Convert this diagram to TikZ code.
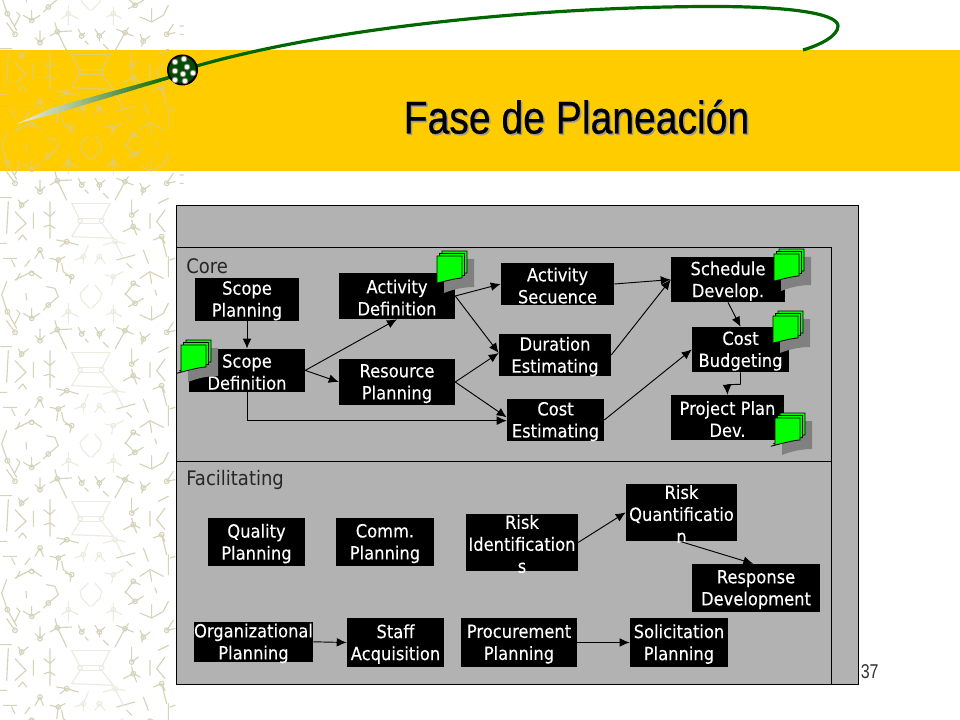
\documentclass[tikz,border=0pt]{standalone}
\usepackage{fontspec}
\setmainfont{DejaVu Sans}[FakeStretch=0.9,FakeBold=0.15]
\newfontfamily\labfont{DejaVu Sans}[FakeStretch=0.9]
\newfontfamily\titlefont{Liberation Sans}[FakeStretch=0.85,FakeBold=0.4]
\newfontfamily\numfont{Liberation Sans}[FakeStretch=0.8]
\usetikzlibrary{arrows.meta}
\definecolor{band}{HTML}{FFCC00}
\definecolor{panel}{HTML}{B2B2B2}
\definecolor{dgreen}{HTML}{006600}
\definecolor{lgreen}{HTML}{00FF00}
\definecolor{tana}{HTML}{D6D3BA}
\definecolor{tanp}{HTML}{EDEBE0}
\definecolor{tanb}{HTML}{E2CC70}
\definecolor{tailpale}{HTML}{EFEAD0}
\tikzset{
  x=0.75pt,y=-0.75pt,
  pbox/.style={fill=black,inner sep=0pt},
  ptext/.style={text=white,inner sep=0pt,align=center,font=\fontsize{13.6}{16.5}\selectfont},
  conn/.style={draw=black,line width=0.7pt,-{Latex[length=7.5pt,width=6.5pt]}},
  region/.style={draw=black,line width=0.7pt,fill=panel},
  lab/.style={font=\labfont\fontsize{15}{17}\selectfont,text=black!85,anchor=west,inner sep=0pt},
  motif/.style={line width=0.85pt,line cap=round,line join=round},
}
% tiled sketch motif, written in thirds of a pixel
\newcommand{\joints}[1]{\foreach \p/\q in {#1}{\draw (\p,\q) circle (7);}}
\newcommand{\tile}[4]{%
 \begin{scope}[shift={(#1,#2)}]
 \begin{scope}[x=0.25pt,y=-0.25pt,draw=#3,motif]
  \draw (20,35)--(45,70) (120,60)--(120,95) (105,80)--(120,95)--(135,80);
  \draw (150,75)--(172,62)--(215,60) (165,35)--(172,62)--(200,120);
  \draw (235,55)--(245,75)--(255,65) (255,90)--(265,100);
  \draw (285,55)--(298,75)--(315,60) (298,75)--(298,90) (310,100)--(325,115);
  \draw (350,55)--(375,65)--(400,75) (375,65)--(345,120) (375,65)--(385,50);
  \draw (420,70)--(430,90)--(450,75) (430,90)--(425,105);
  \draw (520,40)--(500,70)--(525,65) (540,45)--(550,45) (540,70)--(550,70);
  \draw (0,113)--(35,113) (25,125)--(20,220) (55,120)--(65,135)--(85,120) (65,135)--(60,145);
  \draw (45,155)--(78,190)--(45,220) (100,160)--(100,205);
  \draw (150,125)--(150,235) (132,155)--(150,170)--(165,155) (132,200)--(150,195)--(165,205);
  \draw (55,240)--(68,225)--(80,240) (0,250)--(20,250);
  \draw (395,120)--(395,165)--(415,150) (370,215)--(400,200)--(420,210) (395,180)--(400,200)--(410,225);
  \draw (475,130)--(505,115) (450,160)--(450,205) (495,150)--(470,185)--(495,215);
  \draw (460,240)--(485,230)--(495,250) (485,230)--(500,290);
  \draw (170,240)--(200,245)--(235,255) (180,260)--(200,245);
  \draw (105,295)--(120,270)--(130,295);
  \draw (10,295)--(50,295) (35,300)--(45,320) (90,300)--(75,320);
  \draw (150,295)--(175,300)--(195,290) (175,300)--(170,335) (185,310)--(190,335)--(210,350);
  \draw (195,345)--(215,350)--(210,370);
  \draw (45,360)--(95,335)--(125,355) (60,340)--(50,360);
  \draw (350,300)--(405,285) (430,270)--(445,310) (380,310)--(395,325);
  \draw (420,355)--(450,335)--(490,355) (450,340)--(455,370);
  \draw (505,290)--(505,350) (510,300)--(525,295);
  \draw (375,405)--(400,370)--(420,380) (385,440)--(405,430)--(430,415) (405,430)--(375,400);
  \draw (465,390)--(470,405);
  \draw (130,450)--(145,435)--(175,410)--(165,385)--(140,380);
  \draw (78,400)--(80,420) (70,460)--(95,475)--(120,460) (95,475)--(95,445);
  \draw (20,365)--(5,405)--(22,455)--(50,505) (50,450)--(60,460)--(45,490);
  \draw (420,465)--(455,480)--(490,460)--(505,430) (455,480)--(455,440);
  \joints{45/70,120/95,172/62,245/75,298/75,375/65,430/90,500/70,65/135,395/165,400/200,485/230,200/245,120/270,175/300,215/350,95/340,145/435,95/475,22/455,400/370,405/430}
  \begin{scope}[draw=#4]
   \draw (215,130)--(330,130) (240,175)--(305,175) (240,190)--(305,190);
   \draw (215,130)--(240,180) (330,130)--(305,180) (240,190)--(215,230)--(340,235)--(305,190);
   \draw (310,255)--(345,245)--(375,250) (345,245)--(370,295);
   \draw (225,300)--(250,290)--(265,255) (250,290)--(250,310) (285,310)--(298,290)--(315,310);
   \draw (315,345)--(340,350)--(370,335) (340,350)--(335,375);
   \draw (265,375)--(240,400)--(245,420)--(270,445) (285,375)--(305,400)--(300,420)--(275,445);
   \draw (340,435)--(340,490) (320,465)--(340,455)--(365,470);
   \draw (205,430)--(205,490) (185,470)--(205,455)--(235,470);
   \joints{240/182,305/182,345/245,250/290,298/290,340/350,340/455,205/455}
  \end{scope}
 \end{scope}
 \end{scope}}
\newcommand{\bx}[6]{\node[pbox,minimum width=#4*0.75pt,minimum height=#5*0.75pt,label={[ptext,yshift=-1.2pt]center:{#6}}] (#1) at (#2,#3) {};}
\newcommand{\noteicon}[2]{%
 \begin{scope}[shift={(#1,#2)}]
  \fill[black!50] (7,3) -- (37,3) -- (37,31) .. controls (27,31) and (17,33) .. (7,37) -- cycle;
  \foreach \d in {5,2.5,0}{
   \filldraw[draw=black,line width=0.6pt,fill=lgreen] (\d,-\d) -- ++(25,0) -- ++(0,22) .. controls ++(-9,0) and ++(-16,5) .. ++(-25,5) -- cycle;}
 \end{scope}}
\begin{document}
\begin{tikzpicture}
\useasboundingbox (0,0) rectangle (960,720);
\fill[white] (0,0) rectangle (960,720);
\begin{scope}
 \clip (0,0) rectangle (187,720);
 \foreach \yy in {-138,11,160,309,458,607}{\tile{0}{\yy}{tana}{tanp}}
\end{scope}
% band
\fill[band] (0,50) rectangle (960,171);
\begin{scope}
 \clip (0,50) rectangle (187,171);
 \tile{0}{11}{tanb}{tanb}
 \tile{0}{160}{tanb}{tanb}
\end{scope}
% arc
\draw[dgreen,line width=2.4pt] (183,70) .. controls (330,25) and (560,6) .. (720,6.5)
  .. controls (800,7) and (838,15) .. (838,26) .. controls (838,36) and (820,45) .. (803,50);
% tail
\begin{scope}
 \clip (16,124) -- (53,107.5) -- (170,75.5) -- (170,79) -- (56,113.5) -- cycle;
 \foreach \i in {0,...,51}{
   \pgfmathtruncatemacro{\pc}{\i<16 ? 6*\i/4 : min(100,24+(\i-16)*2.2)}
   \fill[dgreen!\pc!tailpale] (16+3*\i,60) rectangle (16+3*\i+3.4,130);}
\end{scope}
% ball
\fill[black] (182.5,70) circle (15.5);
\fill[dgreen!75!black] (182.5,70) circle (13.5);
\foreach \a/\b in {175/62,184/59,187/67,193/73,175/71,183/74,175/80,185/81}{
  \fill[black!40!tailpale] (\a,\b) circle (3.3);
  \fill[white] (\a,\b) circle (2.2);}
% title
\node[font=\titlefont\fontsize{34.5}{36}\selectfont,text=black!40,inner sep=0pt,anchor=base] (titleshadow) at (578,135) {Fase de Planeación};
\node[font=\titlefont\fontsize{34.5}{36}\selectfont,text=black,inner sep=0pt,anchor=base] (title) at (576.5,133.5) {Fase de Planeación};
% regions
\draw[region] (176,205) rectangle (858,684);
\draw[region] (176,247) rectangle (831,461);
\draw[region] (176,461) rectangle (831,684);
\node[lab] (core) at (186,266) {Core};
\node[lab] (fac) at (186,480) {Facilitating};
% boxes
\bx{sp}{247}{299.2}{104}{43}{Scope\\Planning}
\bx{sd}{247}{370.4}{116}{43}{Scope\\Definition}
\bx{ad}{397}{296}{116}{46}{Activity\\Definition}
\bx{rp}{397}{382}{116}{46}{Resource\\Planning}
\bx{as}{557.5}{284}{113}{42.5}{Activity\\Secuence}
\bx{de}{555}{355}{112}{42}{Duration\\Estimating}
\bx{ce}{555.5}{420}{97}{42}{Cost\\Estimating}
\bx{sc}{728}{279.6}{114}{45}{Schedule\\Develop.}
\bx{cb}{740.5}{349.5}{97}{45}{Cost\\Budgeting}
\bx{pp}{727.5}{417.5}{113}{45}{Project Plan\\Dev.}
\bx{qp}{256.5}{542}{97}{48}{Quality\\Planning}
\bx{cp}{385}{542}{98}{48}{Comm.\\Planning}
\bx{ri}{522}{542.4}{112}{57}{Risk\\Identification\\s}
\bx{rq}{681.5}{512.4}{111}{57}{Risk\\Quantificatio\\n}
\bx{rd}{756}{588}{128}{48}{Response\\Development}
\bx{op}{253.5}{641.8}{119}{40}{Organizational\\Planning}
\bx{sa}{395.5}{642.5}{97}{49}{Staff\\Acquisition}
\bx{pr}{519}{642.5}{116}{49}{Procurement\\Planning}
\bx{so}{679}{642.5}{98}{49}{Solicitation\\Planning}
% connectors
\draw[conn] (sp.south) -- (sd.north);
\draw[conn] (sd.east) -- (ad.south);
\draw[conn] (sd.east) -- (rp.west);
\draw[conn] (sd.south) |- ([yshift=-0.5pt]ce.west);
\draw[conn] (ad.east) -- (as.west);
\draw[conn] (ad.east) -- ([yshift=1.5pt]de.west);
\draw[conn] (rp.east) -- ([yshift=1.5pt]de.west);
\draw[conn] (rp.east) -- ([yshift=2pt]ce.west);
\draw[conn] (as.east) -- (sc.west);
\draw[conn] (de.east) -- (sc.west);
\draw[conn] (ce.east) -- (cb.west);
\draw[conn] (sc.south) -- (cb.north);
\draw[conn] (cb.south) -- ++(0,12) -- ++(-13.4,0.5) -- (pp.north);
\draw[conn] (ri.east) -- (rq.west);
\draw[conn] ([yshift=-0.5pt]rq.south) -- ([xshift=-2pt]rd.north);
\draw[conn] (op.east) -- (sa.west);
\draw[conn] (pr.east) -- (so.west);
% note icons
\noteicon{181}{345}
\noteicon{437}{256}
\noteicon{774}{254}
\noteicon{773}{316}
\noteicon{775}{418}
\node[font=\numfont\fontsize{15}{17}\selectfont,text=black!80,inner sep=0pt] (pg) at (869.7,672) {37};
\end{tikzpicture}
\end{document}
